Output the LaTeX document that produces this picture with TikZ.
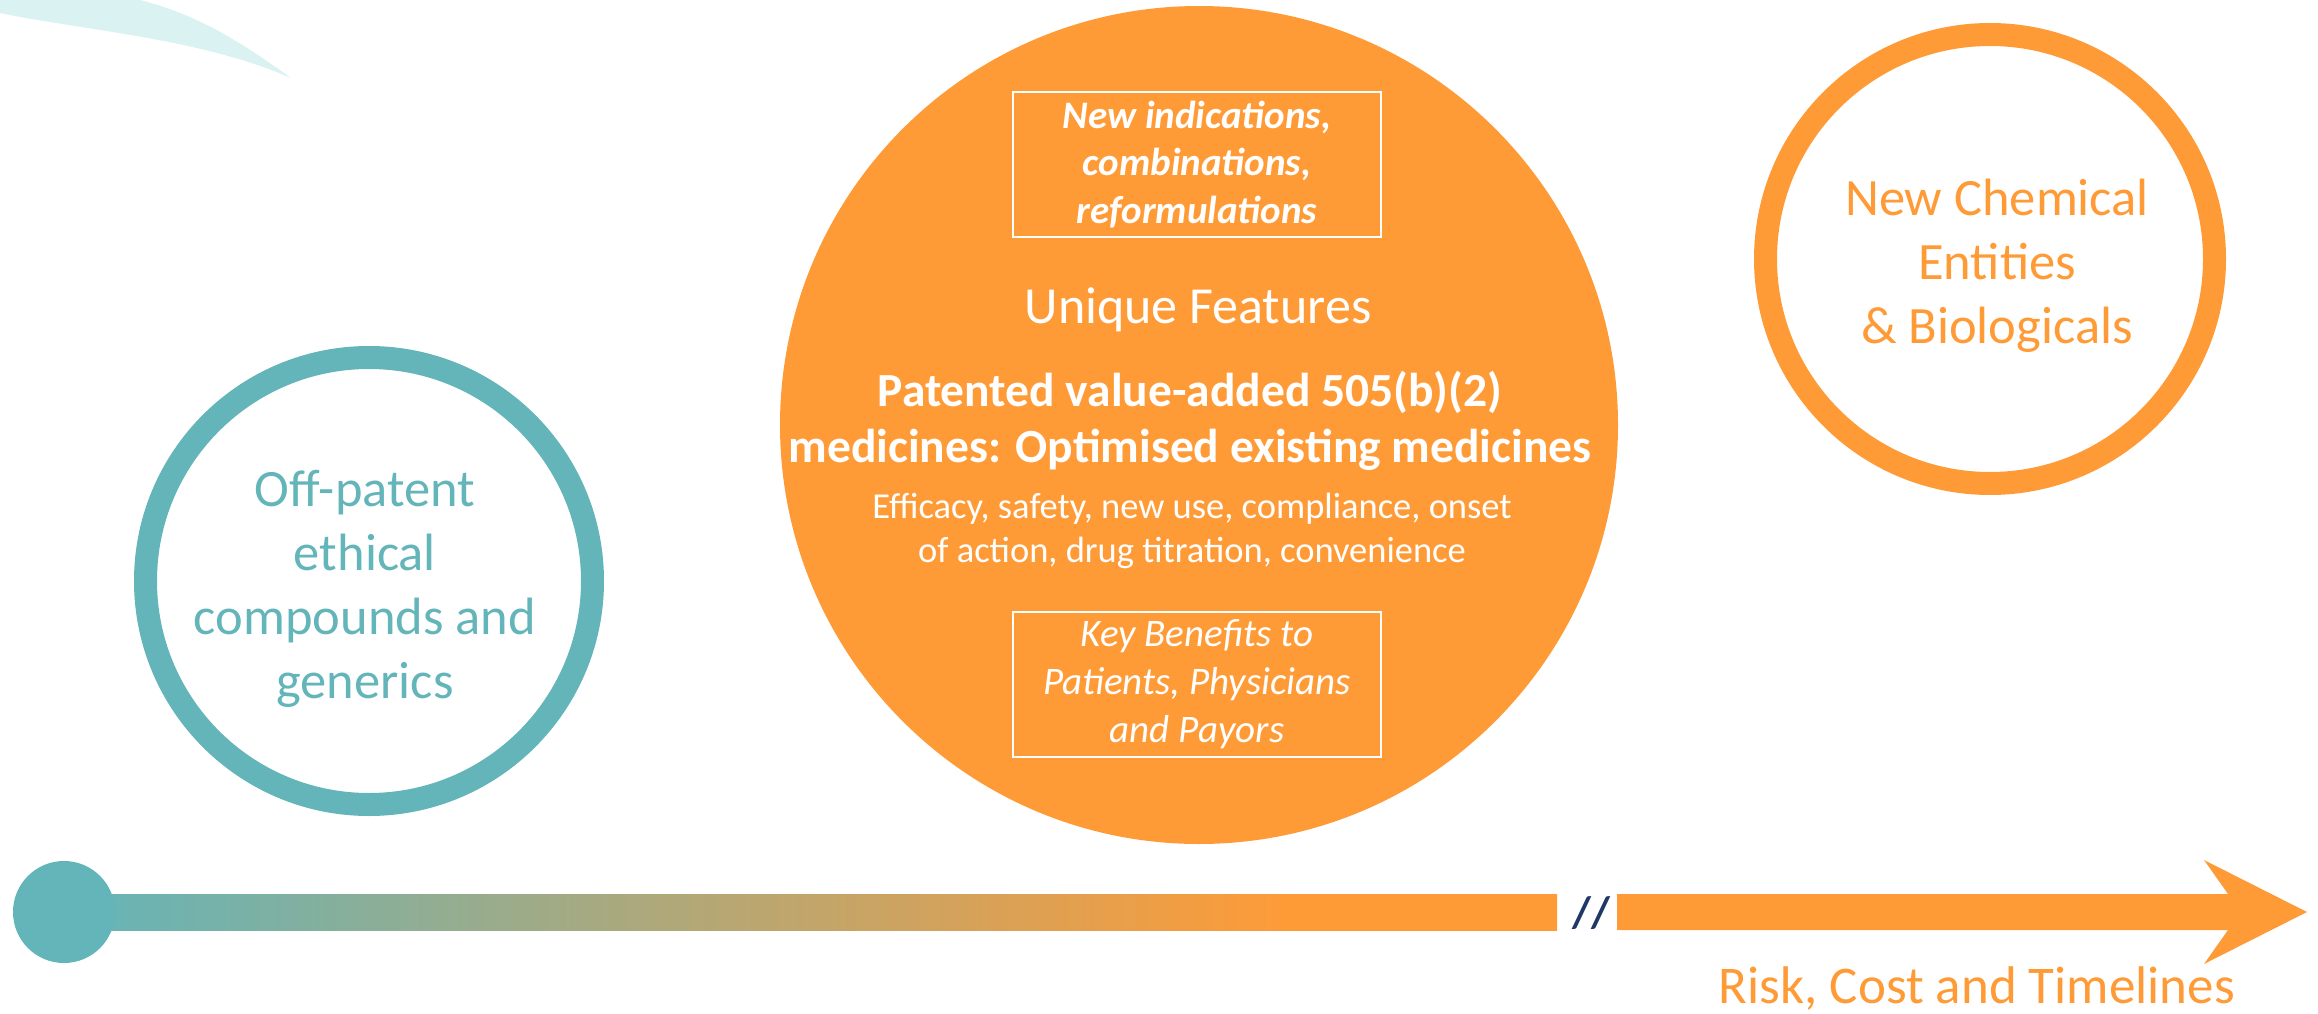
\documentclass[tikz,border=0pt]{standalone}
\usepackage{fontspec}
\setmainfont{Carlito}
\definecolor{tealc}{RGB}{99,181,185}
\definecolor{orangec}{RGB}{255,155,55}
\definecolor{swoosh}{RGB}{219,242,242}
\definecolor{navyc}{RGB}{31,56,100}
% teal-to-orange fade along the axis; the path spans 25bp..75bp of the shading
\pgfdeclarehorizontalshading{axisfade}{100bp}{color(0bp)=(tealc); color(25bp)=(tealc);
  color(66.2bp)=(orangec); color(100bp)=(orangec)}
\begin{document}
\begin{tikzpicture}[x=1pt,y=-1pt,
  ring/.style={circle, draw=#1, line width=23pt, inner sep=0pt},
  framebox/.style={draw=white, line width=2pt, minimum width=368pt, minimum height=145pt,
    inner sep=0pt, text=white, align=center},
  bigtext/.style={font=\fontsize{52.5}{64}\selectfont, align=center, inner sep=0pt}]
\useasboundingbox (0,0) rectangle (2318,1014);

% decorative swoosh, top left
\fill[swoosh] (0,0) -- (140,0) .. controls (200,15) and (245,45) .. (291,78)
  .. controls (200,38) and (80,30) .. (0,13) -- cycle;

% off-patent ring
\node[ring=tealc, minimum size=447pt] (offring) at (369,581) {};
\node[bigtext, text=tealc] (offtext) at (365,589)
  {Off-patent\\ethical\\compounds and\\generics};

% 505(b)(2) disc
\node[circle, fill=orangec, minimum size=838pt, inner sep=0pt] (core) at (1199,425) {};
\node[framebox, font=\fontsize{39}{47.5}\selectfont\bfseries\itshape] (newuses) at (1197,164.5)
  {New indications,\\combinations,\\reformulations};
\node[anchor=base, text=white, inner sep=0pt, font=\fontsize{52}{60}\selectfont] (unique) at (1198,323)
  {Unique Features};
\node[text=white, align=center, inner sep=0pt, font=\fontsize{47.5}{56}\selectfont\bfseries] (patented) at (1190,421)
  {Patented value-added 505(b)(2)\\medicines: Optimised existing medicines};
\node[text=white, align=center, inner sep=0pt, font=\fontsize{36.5}{44}\selectfont] (features) at (1192,531)
  {Efficacy, safety, new use, compliance, onset\\of action, drug titration, convenience};
\node[framebox, font=\fontsize{39}{48}\selectfont\itshape] (benefits) at (1197,684)
  {Key Benefits to\\Patients, Physicians\\and Payors};

% NCE ring
\node[ring=orangec, minimum size=449pt] (ncering) at (1990,259) {};
\node[bigtext, text=orangec] (ncetext) at (1997,265.5)
  {New Chemical\\Entities\\\& Biologicals};

% timeline axis
\shade[shading=axisfade] (64,894) rectangle (1557,930);
\node[circle, fill=tealc, minimum size=102pt, inner sep=0pt] (start) at (64,912) {};
\node[text=navyc, inner sep=0pt, font=\fontsize{44}{44}\selectfont\bfseries] (gap) at (1591,913) {//};
\fill[orangec] (1617,894) -- (2228,894) -- (2204,860) -- (2307,912) -- (2204,964)
  -- (2228,930) -- (1617,930) -- cycle;
\node[anchor=base, text=orangec, inner sep=0pt, font=\fontsize{53}{60}\selectfont] (axislabel) at (1977,1003)
  {Risk, Cost and Timelines};
\end{tikzpicture}
\end{document}
